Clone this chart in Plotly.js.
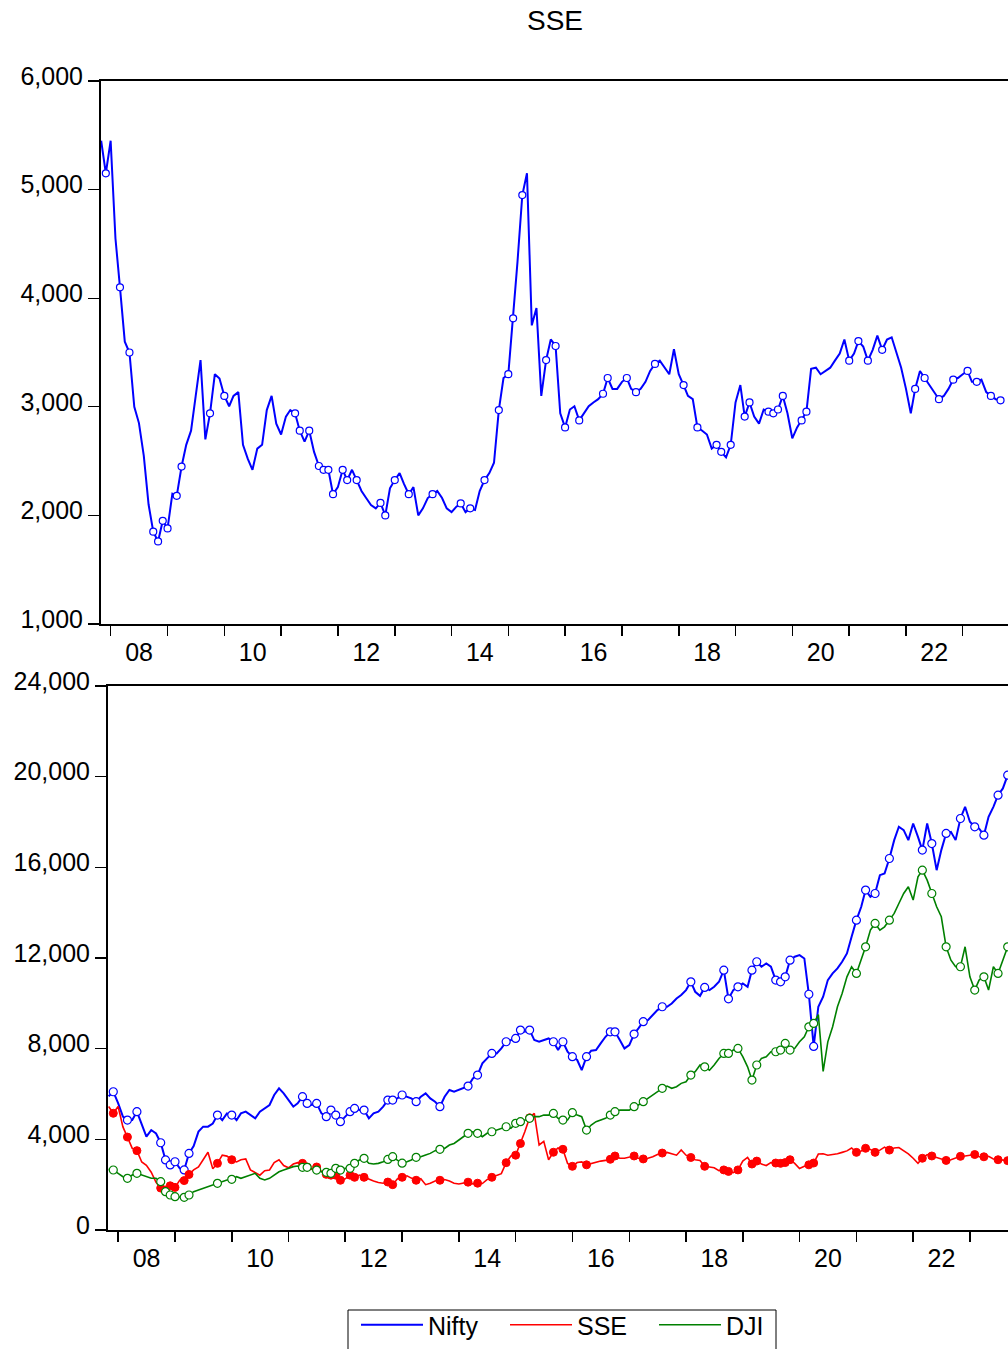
<!DOCTYPE html>
<html>
<head>
<meta charset="utf-8">
<script src="https://cdn.plot.ly/plotly-3.0.1.min.js"></script>
<style>
html,body{margin:0;padding:0;background:#fff;overflow:hidden;width:1008px;height:1349px;}
#chart{width:1008px;height:1380px;}
</style>
</head>
<body>
<div id="chart"></div>
<script>
// Monthly observations starting November 2007
const startMonth = '2007-11';

const sse = [5450,5150,5450,4550,4100,3600,3500,3000,2850,2550,2100,1850,1760,1950,1880,2200,2180,2450,2650,2780,
3100,3430,2700,2940,3300,3260,3100,3005,3100,3135,2650,2520,2420,2615,2650,2970,3100,2845,2745,2910,
2970,2940,2780,2680,2780,2585,2455,2420,2420,2195,2260,2420,2325,2420,2325,2225,2160,2095,2065,2115,
2000,2250,2325,2390,2290,2195,2260,2000,2065,2160,2195,2225,2160,2065,2030,2080,2110,2030,2065,2050,
2225,2325,2390,2485,2970,3265,3300,3815,4335,4950,5150,3750,3910,3100,3430,3620,3560,2940,2810,2975,
3005,2875,2940,3005,3040,3070,3120,3265,3165,3165,3230,3265,3165,3135,3165,3230,3330,3395,3425,3360,
3300,3530,3300,3200,3100,3070,2810,2780,2745,2615,2650,2585,2535,2650,3040,3200,2910,3040,2910,2845,
2975,2955,2940,2975,3100,2940,2710,2810,2875,2955,3350,3360,3300,3330,3360,3425,3490,3620,3425,3490,
3605,3555,3425,3525,3655,3525,3620,3640,3490,3360,3165,2940,3165,3330,3265,3200,3135,3070,3100,3165,
3250,3265,3300,3330,3230,3230,3250,3135,3100,3070,3060];

const nifty = [5900,6100,5600,5000,4850,4850,5220,4700,4120,4410,4260,3850,3090,2870,3010,2720,2650,3380,3700,4340,
4560,4560,4700,5070,4850,5145,5070,4850,5145,5220,5070,4925,5220,5365,5515,5955,6250,6030,5730,5440,
5585,5880,5585,5515,5585,5145,5000,5290,5070,4780,5000,5220,5365,5290,5290,4925,5145,5220,5440,5730,
5730,5805,5955,5880,5805,5660,5880,6030,5805,5660,5440,5880,6175,6100,6175,6250,6350,6690,6835,7350,
7570,7790,7790,8010,8305,8380,8450,8820,8745,8820,8380,8305,8380,8450,8305,7940,8305,7865,7645,7500,
7055,7645,7910,7940,8230,8525,8745,8745,8380,8010,8160,8645,8895,9190,9260,9480,9700,9850,9850,9995,
10215,10365,10585,10950,10510,10330,10700,10585,10730,10950,11465,10200,10585,10730,10880,10730,11465,11835,11615,11760,
11615,11025,10950,11170,11905,12055,12125,11980,10400,8100,9850,10290,11025,11320,11540,11835,12200,12935,13670,14260,
14995,14700,14845,15655,15730,16390,17200,17790,17640,17200,17935,17345,16760,17935,17050,15875,16760,17495,17565,17200,
18155,18670,18010,17785,17715,17420,18230,18670,19185,19480,20065];

const dji = [2675,2646,2500,2350,2280,2425,2500,2425,2350,2280,2280,2130,1690,1545,1470,1440,1440,1545,1690,1765,
1840,1910,1985,2060,2130,2205,2235,2350,2280,2350,2425,2500,2280,2205,2280,2425,2570,2645,2720,2795,
2820,2765,2765,2720,2645,2570,2545,2500,2720,2645,2720,2720,2940,3085,3160,2940,2910,2940,3015,3115,
3235,3085,2950,3015,3085,3205,3235,3310,3380,3500,3560,3600,3750,3820,3970,4115,4265,4335,4265,4115,
4265,4335,4410,4485,4555,4485,4705,4780,4850,4925,5000,5000,5070,5070,5145,4925,4850,4850,5175,5070,
5000,4410,4630,4780,4850,4925,5070,5220,5290,5290,5290,5440,5515,5660,5805,5955,6100,6250,6350,6250,
6320,6470,6540,6835,6985,7280,7200,7050,7280,7570,7790,7790,7940,8010,7645,7200,6615,7280,7570,7645,
7865,7865,7940,8230,7940,8010,8305,8525,8965,9115,9500,7000,8300,8965,9850,10435,11170,11615,11320,11905,
12495,13230,13525,13230,13375,13670,13965,14405,14845,15140,14555,15580,15875,15435,14845,14260,13820,12495,11905,11615,
11615,12495,11170,10585,11025,11170,10585,11615,11320,11905,12495];

// months where isolated observations are drawn as circles
const isolatedMonths = ['2007-12','2008-03','2008-05','2008-10','2008-11','2008-12','2009-01','2009-03','2009-04','2009-10',
'2010-01','2011-04','2011-05','2011-07','2011-09','2011-10','2011-11','2011-12','2012-02','2012-03','2012-05','2012-10',
'2012-11','2013-01','2013-04','2013-09','2014-03','2014-05','2014-08','2014-11','2015-01','2015-02','2015-04','2015-09',
'2015-11','2016-01','2016-04','2016-09','2016-10','2017-02','2017-04','2017-08','2018-02','2018-05','2018-09','2018-10',
'2018-12','2019-03','2019-04','2019-08','2019-09','2019-10','2019-11','2020-03','2020-04','2021-01','2021-03','2021-05',
'2021-08','2022-03','2022-05','2022-08','2022-11','2023-02','2023-04','2023-07','2023-09'];

const yearTickLabels = ['08','10','12','14','16','18','20','22'];
const labelYears = [2008,2010,2012,2014,2016,2018,2020,2022];
const boundaryYears = [2008,2009,2010,2011,2012,2013,2014,2015,2016,2017,2018,2019,2020,2021,2022,2023];

const seriesNames = ['Nifty','SSE','DJI'];
const BLUE='#0000FF', RED='#FF0000', GREEN='#008000';

// build monthly date axis
const n = sse.length;
const [sy, sm] = startMonth.split('-').map(Number);
const months = [];
for (let i=0;i<n;i++){
  const m0 = sm-1+i;
  const y = sy + Math.floor(m0/12);
  const mo = (m0%12)+1;
  months.push(y+'-'+String(mo).padStart(2,'0')+'-01');
}
const mIdx = isolatedMonths.map(s=>months.indexOf(s+'-01')).filter(i=>i>=0);
const pick = (arr)=>mIdx.map(i=>arr[i]);
const mx = mIdx.map(i=>months[i]);

const FONT = {family:'"Liberation Sans", Arial, sans-serif', size:25, color:'#000'};
const H = 1380; // figure is taller than the page; bottom is clipped like the reference
const py = (px)=>1-px/H;

const traces = [
  {x:months, y:sse, xaxis:'x', yaxis:'y', mode:'lines', line:{color:BLUE,width:2}, showlegend:false, hoverinfo:'skip'},
  {x:mx, y:pick(sse), xaxis:'x', yaxis:'y', mode:'markers', marker:{symbol:'circle',size:7,color:'#fff',line:{color:BLUE,width:1.2}}, showlegend:false, hoverinfo:'skip'},
  {x:months, y:nifty, xaxis:'x2', yaxis:'y2', mode:'lines', name:seriesNames[0], line:{color:BLUE,width:2}},
  {x:months, y:sse, xaxis:'x2', yaxis:'y2', mode:'lines', name:seriesNames[1], line:{color:RED,width:1.6}},
  {x:months, y:dji, xaxis:'x2', yaxis:'y2', mode:'lines', name:seriesNames[2], line:{color:GREEN,width:1.6}},
  {x:mx, y:pick(nifty), xaxis:'x2', yaxis:'y2', mode:'markers', marker:{symbol:'circle',size:8,color:'#fff',line:{color:BLUE,width:1.2}}, showlegend:false, hoverinfo:'skip'},
  {x:mx, y:pick(sse), xaxis:'x2', yaxis:'y2', mode:'markers', marker:{symbol:'circle',size:8,color:RED,line:{color:RED,width:1}}, showlegend:false, hoverinfo:'skip'},
  {x:mx, y:pick(dji), xaxis:'x2', yaxis:'y2', mode:'markers', marker:{symbol:'circle',size:8,color:'#fff',line:{color:GREEN,width:1.2}}, showlegend:false, hoverinfo:'skip'}
];

function xAxis(domain, range, anchor){
  return {
    type:'date', domain:domain, range:range, anchor:anchor,
    showline:true, linecolor:'#000', linewidth:2, mirror:true,
    showgrid:false, zeroline:false,
    tickmode:'array',
    tickvals:labelYears.map(y=>y+'-07-02'),
    ticktext:yearTickLabels,
    ticks:'outside', ticklen:5, tickcolor:'rgba(0,0,0,0)',
    ticklabelstandoff:0,
    minor:{tickmode:'array', tickvals:boundaryYears.map(y=>y+'-01-01'), ticks:'outside', ticklen:10, tickwidth:1.5, tickcolor:'#000', showgrid:false},
    tickfont:FONT
  };
}
function yAxis(domain, range, step, anchor){
  const vals=[]; for(let v=range[0]; v<=range[1]; v+=step) vals.push(v);
  return {
    domain:domain, range:range, anchor:anchor,
    showline:true, linecolor:'#000', linewidth:2, mirror:false,
    showgrid:false, zeroline:false,
    tickmode:'array', tickvals:vals, tickformat:',d',
    ticks:'outside', ticklen:11, tickwidth:1.2, tickcolor:'#000',
    ticklabelstandoff:0, ticklabelshift:-5,
    tickfont:FONT
  };
}

const layout = {
  width:1008, height:H,
  margin:{l:0,r:0,t:0,b:0},
  paper_bgcolor:'#fff', plot_bgcolor:'#fff',
  font:FONT,
  title:{text:'SSE', font:{family:FONT.family,size:28,color:'#000'}, x:0.5506, xanchor:'center', y:py(20), yanchor:'middle', yref:'container', xref:'container'},
  xaxis:xAxis([101/1008,1], ['2007-10-31','2023-10-19'], 'y'),
  yaxis:yAxis([py(624),py(81)], [1000,6000], 1000, 'x'),
  xaxis2:xAxis([108/1008,1], ['2007-10-28','2023-09-03'], 'y2'),
  yaxis2:yAxis([py(1230),py(686)], [0,24000], 4000, 'x2'),
  showlegend:true,
  legend:{orientation:'h', x:356/1008, xanchor:'left', y:py(1302), yanchor:'top',
    borderwidth:0, bgcolor:'rgba(0,0,0,0)', font:FONT,
    entrywidth:72, itemwidth:62, traceorder:'normal'},
  shapes:[{type:'rect', xref:'paper', yref:'paper', x0:348/1008, x1:776/1008, y0:py(1365), y1:py(1310),
    line:{color:'#000', width:1}, fillcolor:'rgba(0,0,0,0)', layer:'below'}]
};

Plotly.newPlot('chart', traces, layout, {staticPlot:true, displayModeBar:false});
</script>
</body>
</html>
